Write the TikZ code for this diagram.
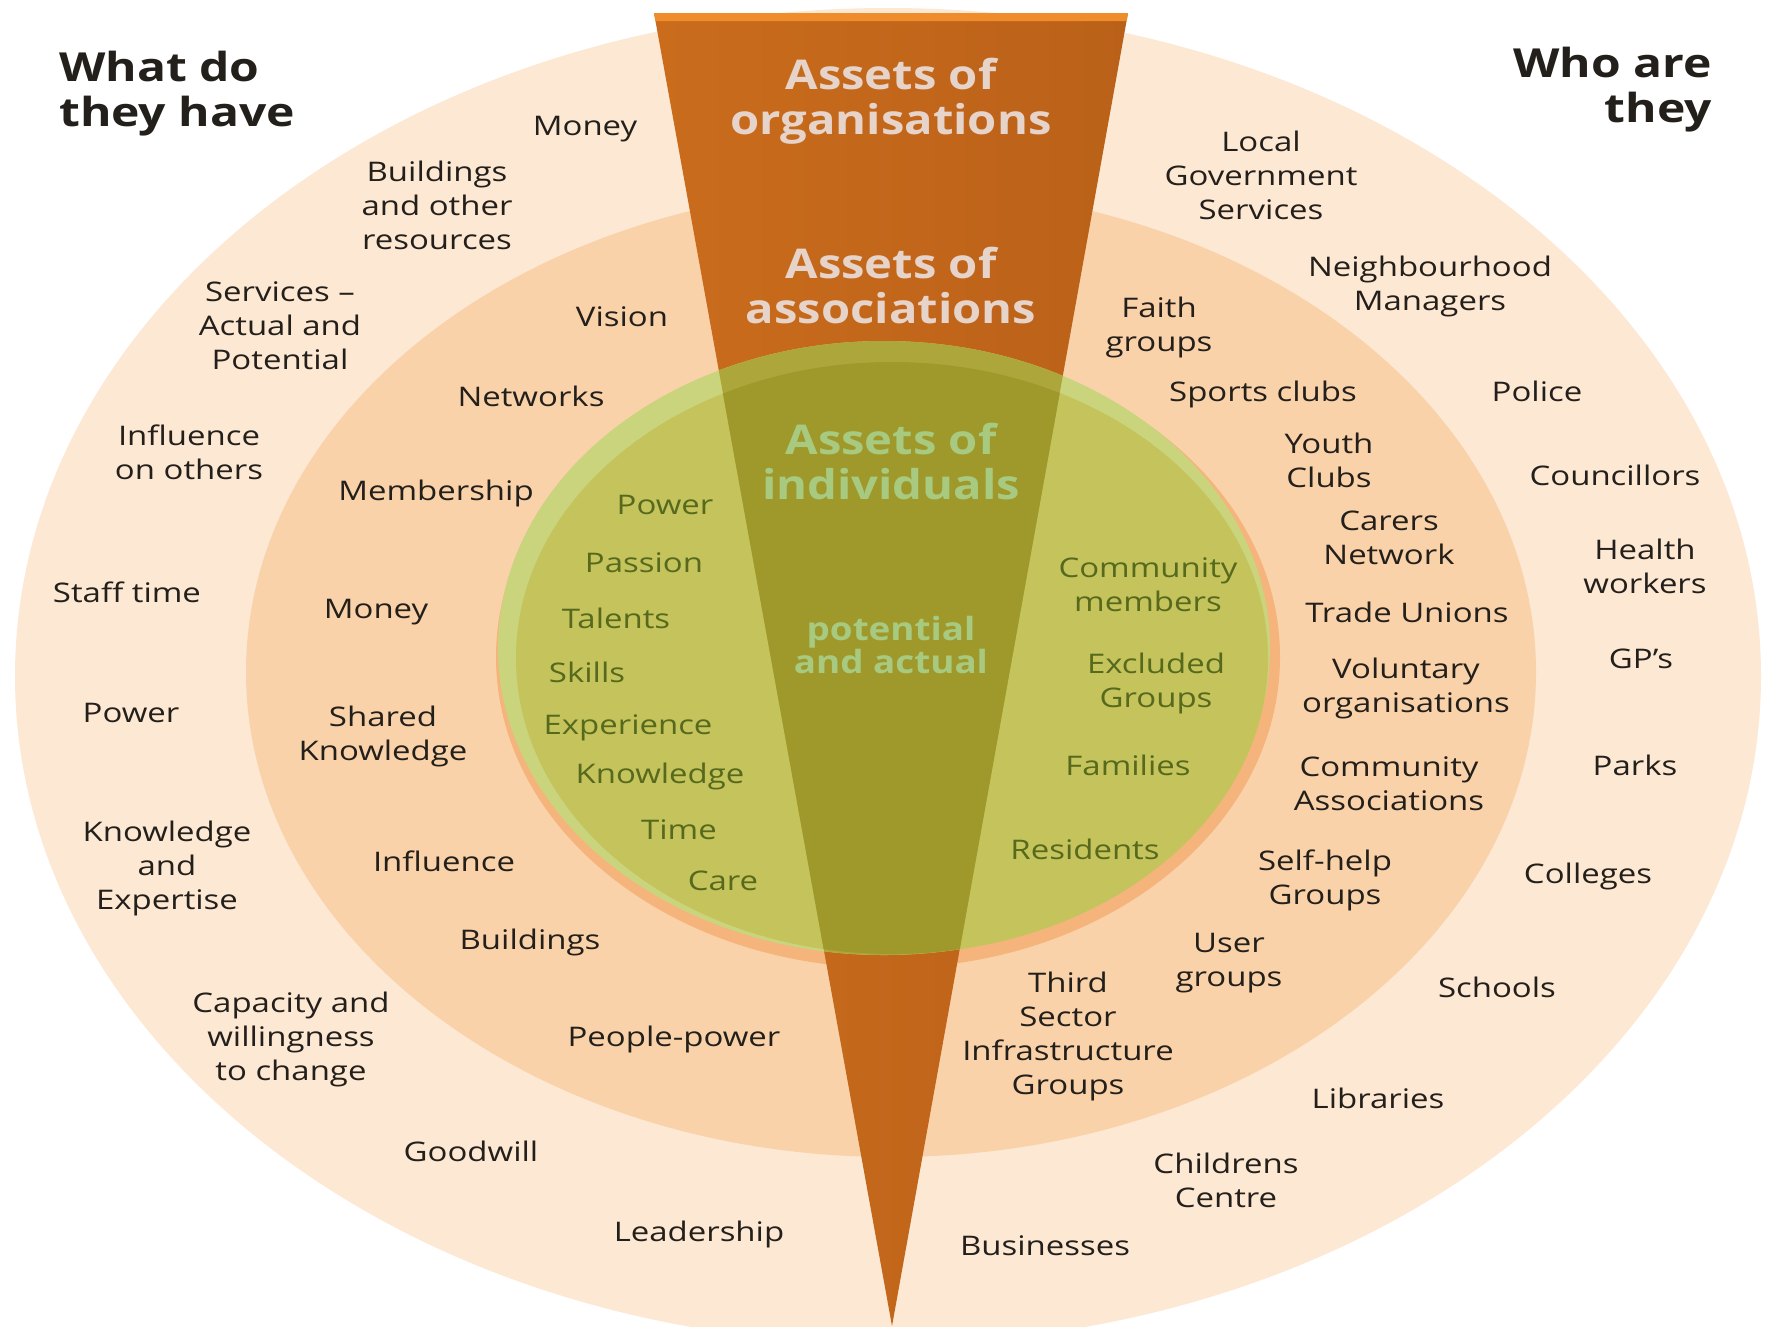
\documentclass[tikz,border=0pt]{standalone}
\usepackage{fontspec}
\setmainfont{Open Sans}[FakeStretch=1.22]
\newfontfamily\wedgefont{Open Sans}[FakeStretch=1.15]
\newfontfamily\headfont{Open Sans}[FakeStretch=1.2]
\definecolor{outerring}{HTML}{FDE8D4}
\definecolor{innerring}{HTML}{FAD2AA}
\definecolor{shadoworange}{HTML}{F5B47C}
\definecolor{greenedge}{HTML}{C9D47C}
\definecolor{greenfill}{HTML}{C4C35C}
\definecolor{oliveedge}{HTML}{ADA63A}
\definecolor{olivefill}{HTML}{9F992B}
\definecolor{wedgeleft}{HTML}{CA6C1C}
\definecolor{wedgeright}{HTML}{BA6119}
\definecolor{wedgetop}{HTML}{EF8C2C}
\definecolor{txt}{HTML}{231F1A}
\definecolor{grtxt}{HTML}{56691C}
\definecolor{wpale}{HTML}{E6D3C9}
\definecolor{wgreen}{HTML}{A8CA80}
\begin{document}
\begin{tikzpicture}[x=1pt,y=-1pt,
  lbl/.style={font=\fontsize{27}{34}\selectfont, align=center, text=txt, inner sep=0pt},
  grn/.style={lbl, text=grtxt},
  wtop/.style={font=\wedgefont\bfseries\fontsize{41}{45}\selectfont, align=center, text=wpale, inner sep=0pt},
  wgrn/.style={wtop, text=wgreen},
  wsmall/.style={font=\wedgefont\bfseries\fontsize{32}{33}\selectfont, align=center, text=wgreen, inner sep=0pt},
  head/.style={font=\headfont\bfseries\fontsize{40}{45}\selectfont, text=txt, inner sep=0pt},
]
\useasboundingbox (0,0) rectangle (1768,1326);
\begin{scope}
\clip (0,0) rectangle (1768,1326);
\fill[white] (0,0) rectangle (1768,1326);
% rings
\fill[outerring] (888,676) ellipse [x radius=873pt, y radius=668pt];
\fill[innerring] (891,672) ellipse [x radius=645pt, y radius=485pt];
\fill[shadoworange] (888,657) ellipse [x radius=392pt, y radius=311pt];
% wedge
\shade[left color=wedgeleft, right color=wedgeright] (654,13) -- (1128,13) -- (892,1326) -- cycle;
\fill[wedgetop] (654,13) -- (1128,13) -- (1126.6,21) -- (655.4,21) -- cycle;
% green circle
\fill[greenedge] (884,648) ellipse [x radius=386pt, y radius=307pt];
\fill[greenfill] (892,658) ellipse [x radius=376pt, y radius=296pt];
\begin{scope}
\clip (884,648) ellipse [x radius=386pt, y radius=307pt];
\fill[oliveedge] (654,13) -- (1128,13) -- (892,1326) -- cycle;
\clip (892,658) ellipse [x radius=376pt, y radius=296pt];
\fill[olivefill] (654,13) -- (1128,13) -- (892,1326) -- cycle;
\end{scope}
\end{scope}

% headings
\node[head, anchor=west, align=left] (hl) at (59,94) {What do\\they have};
\node[head, anchor=east, align=right] (hr) at (1712,90) {Who are\\they};

% wedge titles
\node[wtop] (worg) at (891,101) {Assets of\\organisations};
\node[wtop] (wass) at (891,286) {Assets of\\associations};
\node[wgrn] (wind) at (891,462) {Assets of\\individuals};
\node[wsmall] (wpot) at (891,645) {potential\\and actual};

% left outer ring
\node[lbl] (l1) at (585,129) {Money};
\node[lbl] (l2) at (437,205) {Buildings\\and other\\resources};
\node[lbl] (l3) at (280,326) {Services –\\Actual and\\Potential};
\node[lbl] (l4) at (189,452) {Influence\\on others};
\node[lbl] (l5) at (127,592) {Staff time};
\node[lbl] (l6) at (131,713) {Power};
\node[lbl] (l7) at (167,868) {Knowledge\\and\\Expertise};
\node[lbl] (l8) at (291,1039) {Capacity and\\willingness\\to change};
\node[lbl] (l9) at (471,1151) {Goodwill};
\node[lbl] (l10) at (699,1234) {Leadership};

% left inner ring
\node[lbl] (m1) at (622,317) {Vision};
\node[lbl] (m2) at (531,396) {Networks};
\node[lbl] (m3) at (436,493) {Membership};
\node[lbl] (m4) at (376,612) {Money};
\node[lbl] (m5) at (383,736) {Shared\\Knowledge};
\node[lbl] (m6) at (444,861) {Influence};
\node[lbl] (m7) at (530,942) {Buildings};
\node[lbl] (m8) at (674,1039) {People-power};

% green left
\node[grn] (g1) at (665,505) {Power};
\node[grn] (g2) at (644,563) {Passion};
\node[grn] (g3) at (616,618) {Talents};
\node[grn] (g4) at (587,672) {Skills};
\node[grn] (g5) at (628,728) {Experience};
\node[grn] (g6) at (660,776) {Knowledge};
\node[grn] (g7) at (679,830) {Time};
\node[grn] (g8) at (723,881) {Care};

% green right
\node[grn] (h1) at (1148,585) {Community\\members};
\node[grn] (h2) at (1156,683) {Excluded\\Groups};
\node[grn] (h3) at (1128,765) {Families};
\node[grn] (h4) at (1085,849) {Residents};

% right inner ring
\node[lbl] (r1) at (1159,327) {Faith\\groups};
\node[lbl] (r2) at (1263,394) {Sports clubs};
\node[lbl] (r3) at (1329,460) {Youth\\Clubs};
\node[lbl] (r4) at (1389,538) {Carers\\Network};
\node[lbl] (r5) at (1407,612) {Trade Unions};
\node[lbl] (r6) at (1406,688) {Voluntary\\organisations};
\node[lbl] (r7) at (1389,784) {Community\\Associations};
\node[lbl] (r8) at (1325,880) {Self-help\\Groups};
\node[lbl] (r9) at (1229,963) {User\\groups};
\node[lbl] (r10) at (1068,1036) {Third\\Sector\\Infrastructure\\Groups};

% right outer ring
\node[lbl] (o1) at (1261,175) {Local\\Government\\Services};
\node[lbl] (o2) at (1430,286) {Neighbourhood\\Managers};
\node[lbl] (o3) at (1537,391) {Police};
\node[lbl] (o4) at (1615,475) {Councillors};
\node[lbl] (o5) at (1645,566) {Health\\workers};
\node[lbl] (o6) at (1641,659) {GP’s};
\node[lbl] (o7) at (1635,765) {Parks};
\node[lbl] (o8) at (1588,876) {Colleges};
\node[lbl] (o9) at (1497,987) {Schools};
\node[lbl] (o10) at (1378,1098) {Libraries};
\node[lbl] (o11) at (1226,1180) {Childrens\\Centre};
\node[lbl] (o12) at (1045,1246) {Businesses};
\end{tikzpicture}
\end{document}
